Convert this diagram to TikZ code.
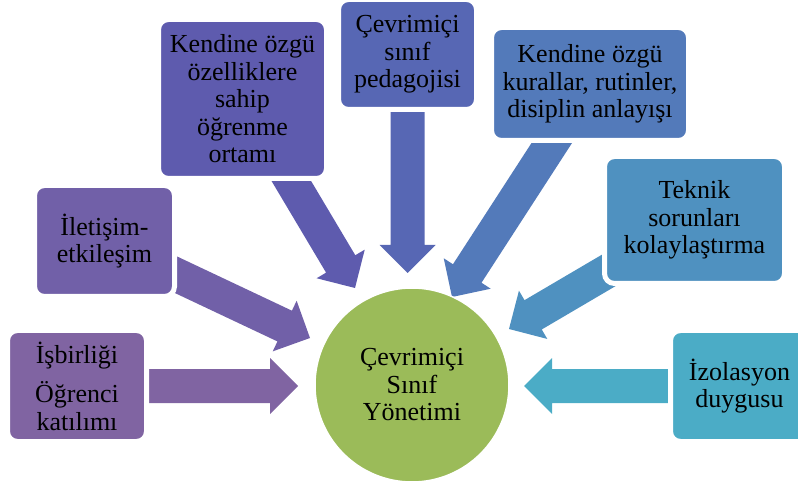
\documentclass[tikz,border=0pt]{standalone}
\usepackage{fontspec}
\setmainfont{Liberation Serif}
\usetikzlibrary{calc,backgrounds}

% colour range from purple to aqua, plus the green hub
\definecolor{cOne}{RGB}{128,100,162}
\definecolor{cTwo}{RGB}{113,96,168}
\definecolor{cThree}{RGB}{94,91,174}
\definecolor{cFour}{RGB}{87,103,180}
\definecolor{cFive}{RGB}{83,122,186}
\definecolor{cSix}{RGB}{79,145,192}
\definecolor{cSeven}{RGB}{75,172,198}
\definecolor{hubgreen}{RGB}{155,187,89}

\tikzset{
  box/.style={rectangle, rounded corners=10pt, draw=white, line width=5pt,
    inner sep=0pt, align=center, text=black,
    font=\fontsize{26}{27.5}\selectfont},
  hub/.style={circle, fill=hubgreen, draw=white, line width=1.5pt,
    minimum size=194pt, inner sep=0pt, align=center, text=black,
    font=\fontsize{26}{27.5}\selectfont}
}

% wide block arrow from the centre of #1 to the point #2, filled with #3
\newcommand{\blockarrow}[3]{%
  \coordinate (hb) at ($(#2)!28pt!(#1.center)$);
  \fill[#3] ($(#1.center)!17pt!90:(#2)$) -- ($(hb)!17pt!-90:(#1.center)$)
    -- ($(hb)!28pt!-90:(#1.center)$) -- (#2)
    -- ($(hb)!28pt!90:(#1.center)$) -- ($(hb)!17pt!90:(#1.center)$)
    -- ($(#1.center)!17pt!-90:(#2)$) -- cycle;
}

\begin{document}
\begin{tikzpicture}[x=1pt,y=-1pt]
\useasboundingbox (0,0) rectangle (798,486);

% central circle
\node[hub] (hub) at (412,385) {Çevrimiçi\\Sınıf\\Yönetimi};

% surrounding boxes (size = visible fill + white rim)
\node[box, fill=cOne, minimum width=139pt, minimum height=111pt] (b1) at (77,386)
  {İşbirliği\\[12pt]Öğrenci\\katılımı};
\node[box, fill=cTwo, minimum width=140pt, minimum height=111pt] (b2) at (104.5,241)
  {İletişim-\\etkileşim};
\node[box, fill=cThree, minimum width=168pt, minimum height=159pt] (b3) at (242.5,99)
  {Kendine özgü\\özelliklere\\sahip\\öğrenme\\ortamı};
\node[box, fill=cFour, minimum width=138pt, minimum height=110pt] (b4) at (407.5,54.5)
  {Çevrimiçi\\sınıf\\pedagojisi};
\node[box, fill=cFive, minimum width=197pt, minimum height=113pt] (b5) at (590,84)
  {Kendine özgü\\kurallar, rutinler,\\disiplin anlayışı};
\node[box, fill=cSix, minimum width=180pt, minimum height=127pt] (b6) at (694.5,220)
  {Teknik\\sorunları\\kolaylaştırma};
\node[box, fill=cSeven, minimum width=138pt, minimum height=111pt] (b7) at (739.5,386)
  {İzolasyon\\duygusu};

% arrow tips near the circle
\coordinate (t1) at (298,386);
\coordinate (t2) at (310,338);
\coordinate (t3) at (355,288);
\coordinate (t4) at (407.5,273);
\coordinate (t5) at (452,297);
\coordinate (t6) at (509,329);
\coordinate (t7) at (524,386);

% arrows run underneath the boxes
\begin{scope}[on background layer]
  \blockarrow{b1}{t1}{cOne}
  \blockarrow{b2}{t2}{cTwo}
  \blockarrow{b3}{t3}{cThree}
  \blockarrow{b4}{t4}{cFour}
  \blockarrow{b5}{t5}{cFive}
  \blockarrow{b6}{t6}{cSix}
  \blockarrow{b7}{t7}{cSeven}
\end{scope}
\end{tikzpicture}
\end{document}
